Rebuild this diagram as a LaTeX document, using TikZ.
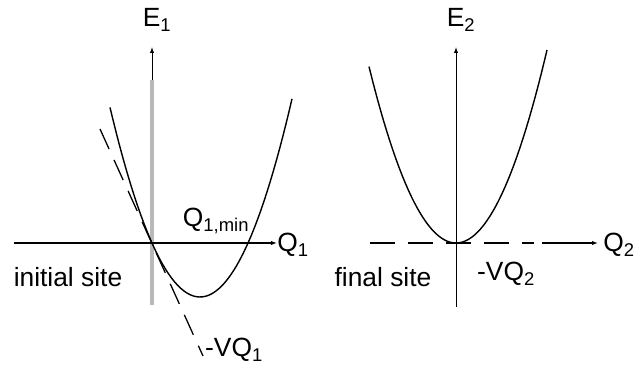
\documentclass[tikz,border=0pt]{standalone}
\usepackage{fontspec}
\setmainfont{Liberation Sans}
\usetikzlibrary{arrows.meta}

\tikzset{
  lbl/.style={font=\fontsize{22.5}{26}\selectfont,inner sep=0pt},
  tang/.style={dash pattern=on 6.6mm off 3.6mm},
  axdash/.style={dash pattern=on 7.5mm off 3.9mm}
}

\begin{document}
\begin{tikzpicture}[x=0.3mm,y=0.3mm,line width=1.1pt,>={Latex[length=1.8mm,width=1.3mm]}]
  \useasboundingbox (-152,-122) rectangle (482,243);
  % initial site (E_1 vs Q_1)
  \coordinate (o1) at (0,0);
  \coordinate (w1) at (-138,0);
  \coordinate (e1) at (125,0);
  \coordinate (s1) at (0,-62);
  \coordinate (g1) at (0,163);
  \coordinate (n1) at (0,196);
  \coordinate (ta) at (-52,114);
  \coordinate (tb) at (51,-113);
  \draw[->,line width=0.8pt] (s1) -- (n1);
  \draw[gray!55,line width=2.6pt] (s1) -- (g1);
  \draw[->] (w1) -- (e1);
  \draw[line width=1.2pt,domain=-42:140,samples=60] plot (\x,{-54+0.0234*(\x-48)^2});
  \draw[tang] (ta) -- (tb);
  \node[lbl] (E1) at (5,223) {E\textsubscript{1}};
  \node[lbl] (Q1) at (141,-2) {Q\textsubscript{1}};
  \node[lbl] (Qmin) at (64,22) {Q\textsubscript{1,min}};
  \node[lbl] (init) at (-84,-34) {initial site};
  \node[lbl] (VQ1) at (82,-107) {-VQ\textsubscript{1}};
  % final site (E_2 vs Q_2)
  \begin{scope}[xshift=91.2mm]
    \coordinate (o2) at (0,0);
    \coordinate (w2) at (-86,0);
    \coordinate (d2) at (78,0);
    \coordinate (a2) at (86,0);
    \coordinate (e2) at (142,0);
    \coordinate (s2) at (0,-64);
    \coordinate (n2) at (0,196);
    \draw[->,line width=0.8pt] (s2) -- (n2);
    \draw[axdash] (w2) -- (d2);
    \draw[->] (a2) -- (e2);
    \draw[line width=1.2pt,domain=-87:91,samples=60] plot (\x,{0.0233*\x*\x});
    \node[lbl] (E2) at (5,223) {E\textsubscript{2}};
    \node[lbl] (Q2) at (163,-2) {Q\textsubscript{2}};
    \node[lbl] (fin) at (-73,-34) {final site};
    \node[lbl] (VQ2) at (50,-31) {-VQ\textsubscript{2}};
  \end{scope}
\end{tikzpicture}
\end{document}
